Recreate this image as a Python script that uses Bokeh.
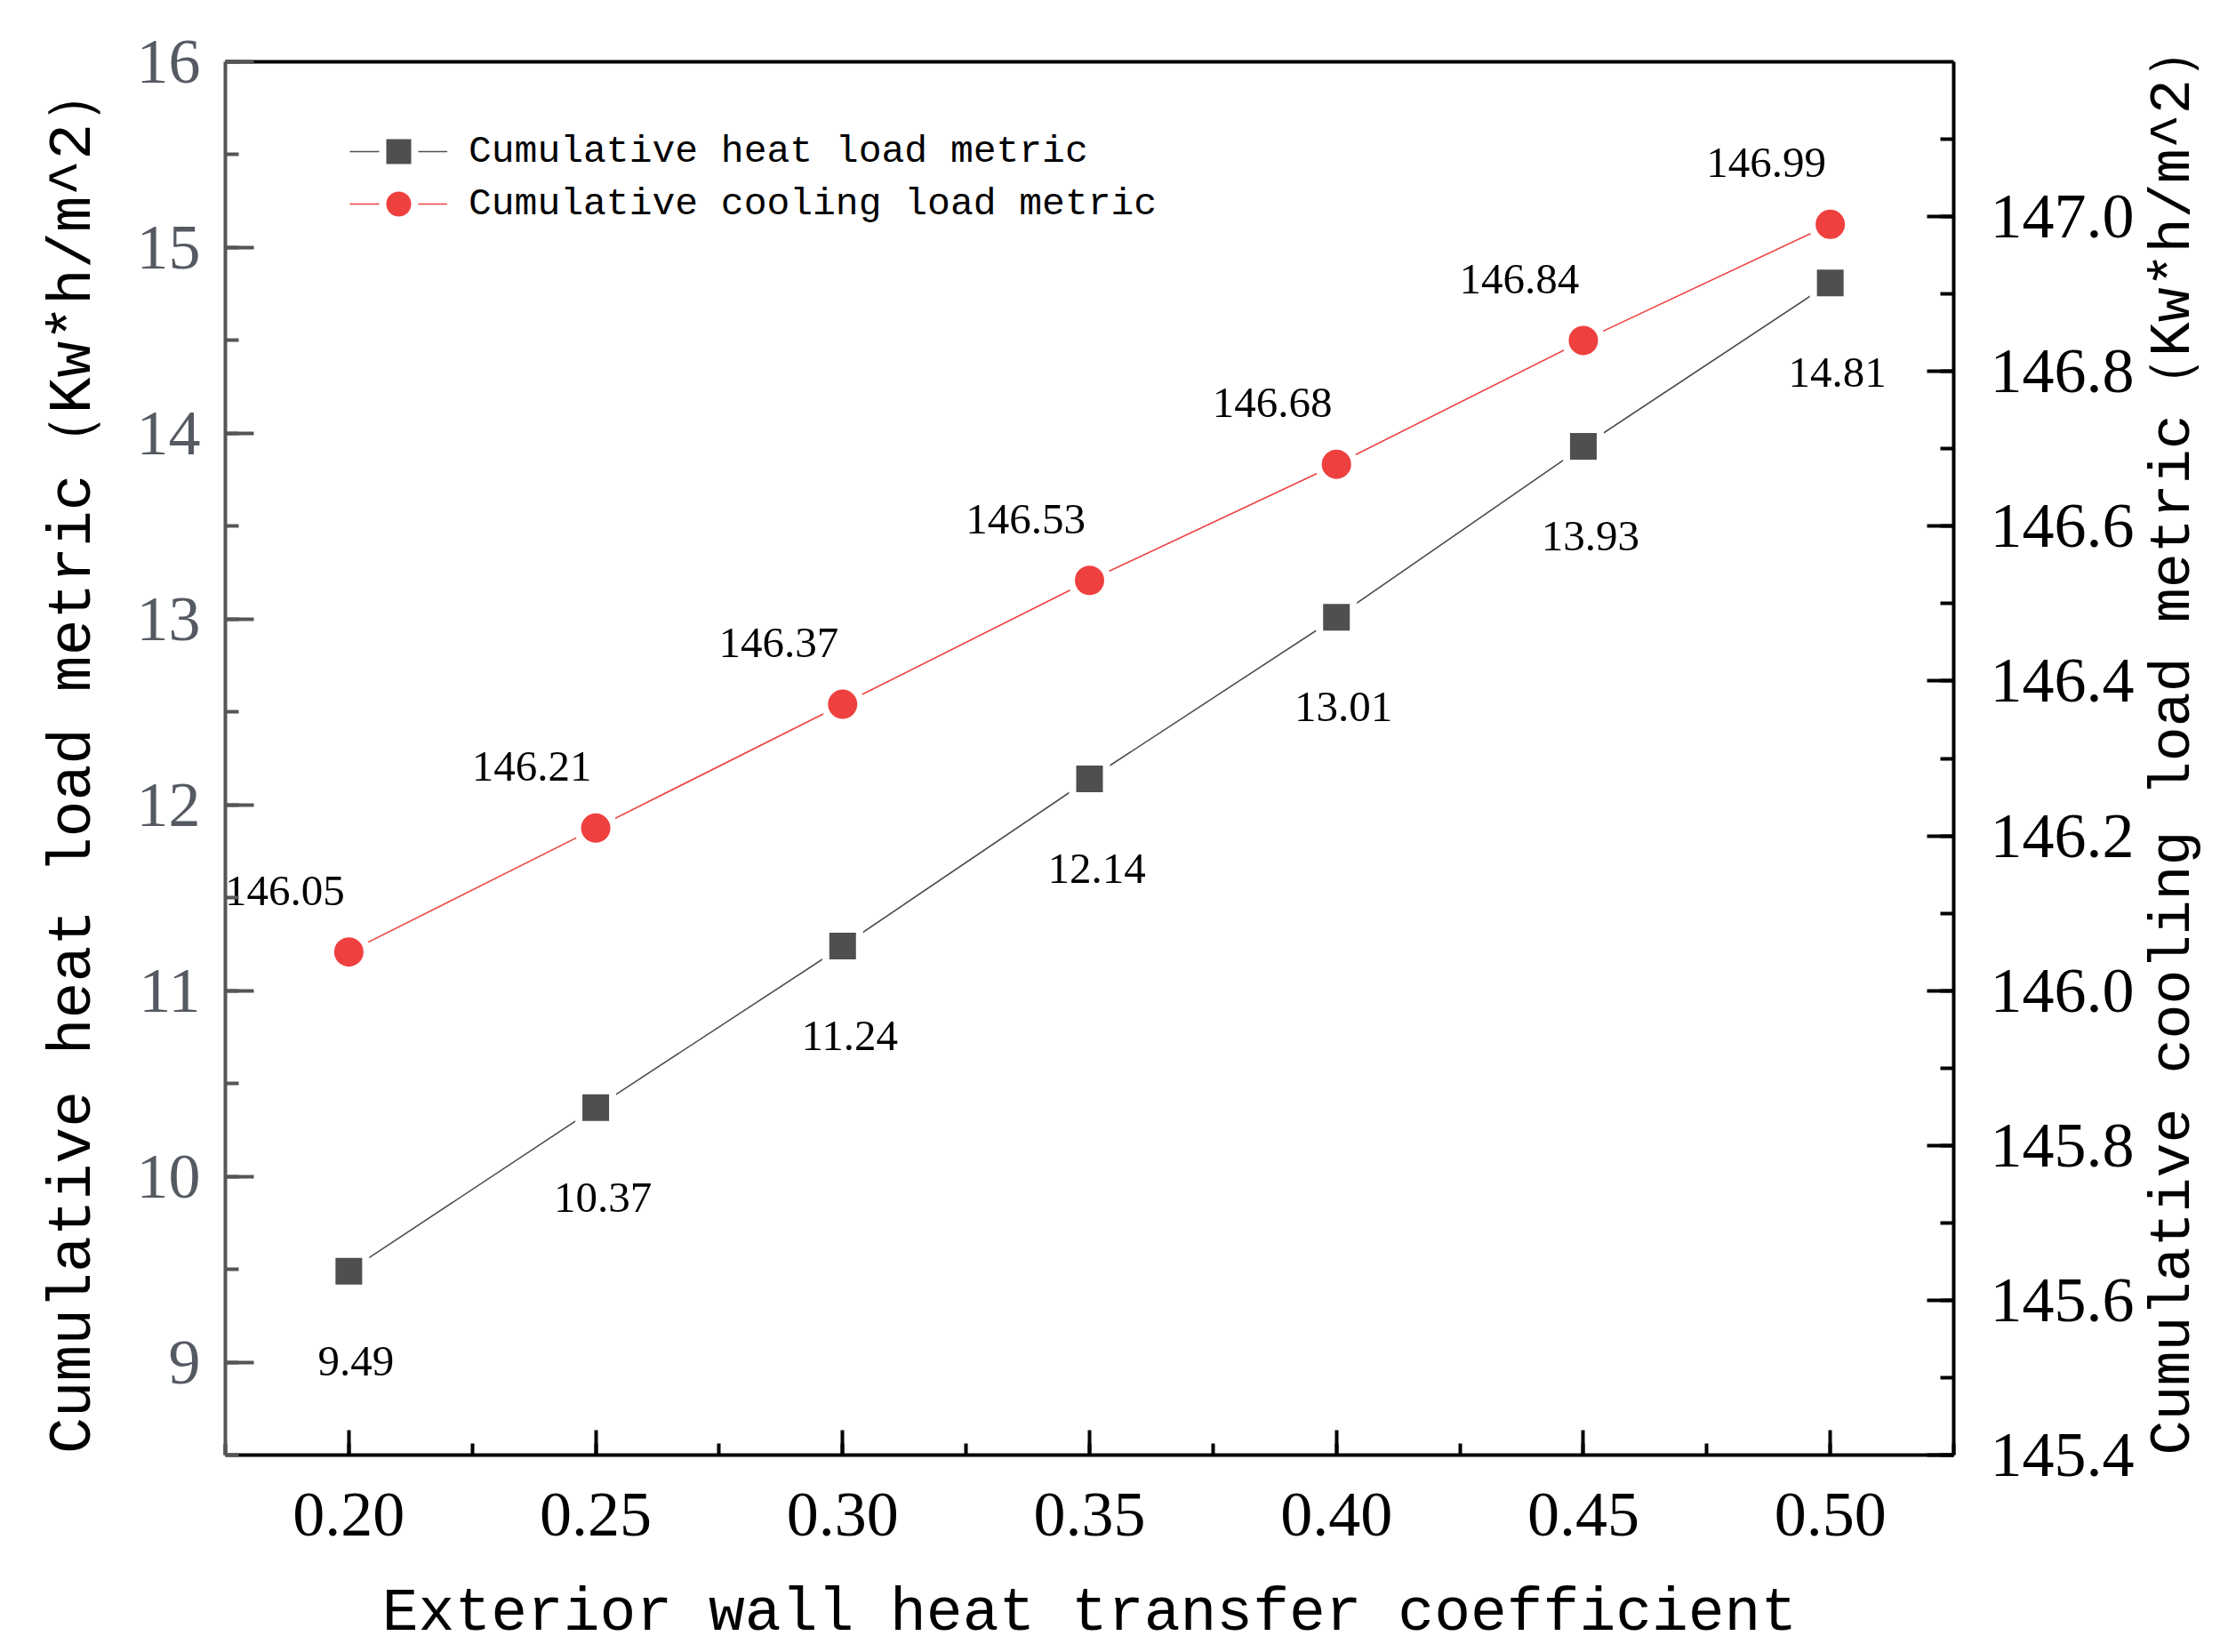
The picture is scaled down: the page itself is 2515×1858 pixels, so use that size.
import math
from bokeh.plotting import figure
from bokeh.models import (Range1d, LinearAxis, SingleIntervalTicker, FixedTicker,
                          PrintfTickFormatter, ColumnDataSource, Legend, LegendItem)
from bokeh.embed import file_html
from bokeh.resources import INLINE
from bokeh.core.properties import value

# ---- data ----
coef = [0.20, 0.25, 0.30, 0.35, 0.40, 0.45, 0.50]
heat = [9.49, 10.37, 11.24, 12.14, 13.01, 13.93, 14.81]
cool = [146.05, 146.21, 146.37, 146.53, 146.68, 146.84, 146.99]
heat_name = "Cumulative heat load metric"
cool_name = "Cumulative cooling load metric"
x_title = "Exterior wall heat transfer coefficient"
left_title = "Cumulative heat load metric\uff08Kw*h/m^2\uff09"
right_title = "Cumulative cooling load metric\uff08Kw*h/m^2\uff09"

heat_src = ColumnDataSource(dict(x=coef, y=heat, t=[f"{v:.2f}" for v in heat]))
cool_src = ColumnDataSource(dict(x=coef, y=cool, t=[f"{v:.2f}" for v in cool]))

GREY = "#4f4f4f"
RED = "#ef4040"
MONO = "Liberation Mono"
SERIF = "Liberation Serif"

p = figure(frame_width=1944, frame_height=1567,
           x_range=Range1d(0.175, 0.525), y_range=Range1d(8.5, 16),
           output_backend="svg", toolbar_location=None,
           min_border_left=253, min_border_right=318,
           min_border_top=69, min_border_bottom=218,
           background_fill_color="white", border_fill_color="white",
           outline_line_color=None)
p.xgrid.visible = False
p.ygrid.visible = False
p.extra_y_ranges = {"right": Range1d(145.4, 147.2)}

# bottom axis
xa = p.xaxis[0]
xa.ticker = SingleIntervalTicker(interval=0.05, num_minor_ticks=2)
xa.formatter = PrintfTickFormatter(format="%.2f")
xa.axis_line_color = "black"
xa.axis_line_width = 4
xa.major_tick_line_color = "black"
xa.major_tick_line_width = 4
xa.major_tick_in = 28
xa.major_tick_out = 0
xa.minor_tick_line_color = "black"
xa.minor_tick_line_width = 4
xa.minor_tick_in = 13
xa.minor_tick_out = 0
xa.major_label_text_font = SERIF
xa.major_label_text_font_size = "72px"
xa.major_label_text_color = "black"
xa.major_label_standoff = 43
xa.axis_label = x_title
xa.axis_label_text_font = MONO
xa.axis_label_text_font_size = "68px"
xa.axis_label_text_font_style = "normal"
xa.axis_label_text_color = "black"
xa.axis_label_standoff = 46

# left axis
ya = p.yaxis[0]
ya.ticker = SingleIntervalTicker(interval=1, num_minor_ticks=2)
ya.axis_line_color = "#555555"
ya.axis_line_width = 4
ya.major_tick_line_color = "#555555"
ya.major_tick_line_width = 4
ya.major_tick_in = 32
ya.major_tick_out = 0
ya.minor_tick_line_color = "#555555"
ya.minor_tick_line_width = 4
ya.minor_tick_in = 15
ya.minor_tick_out = 0
ya.major_label_text_font = SERIF
ya.major_label_text_font_size = "72px"
ya.major_label_text_color = "#555a62"
ya.major_label_standoff = 28
ya.axis_label = left_title
ya.axis_label_text_font = MONO
ya.axis_label_text_font_size = "68px"
ya.axis_label_text_font_style = "normal"
ya.axis_label_text_color = "black"
ya.axis_label_standoff = 30

# right axis
ra = LinearAxis(y_range_name="right",
                ticker=SingleIntervalTicker(interval=0.2, num_minor_ticks=2),
                formatter=PrintfTickFormatter(format="%.1f"))
ra.axis_line_color = "black"
ra.axis_line_width = 4
ra.major_tick_line_color = "black"
ra.major_tick_line_width = 4
ra.major_tick_in = 30
ra.major_tick_out = 0
ra.minor_tick_line_color = "black"
ra.minor_tick_line_width = 4
ra.minor_tick_in = 15
ra.minor_tick_out = 0
ra.major_label_text_font = SERIF
ra.major_label_text_font_size = "72px"
ra.major_label_text_color = "black"
ra.major_label_standoff = 41
ra.axis_label = right_title
ra.axis_label_text_font = MONO
ra.axis_label_text_font_size = "65px"
ra.axis_label_text_font_style = "normal"
ra.axis_label_text_color = "black"
ra.axis_label_standoff = 41
props = ra.properties()
if "axis_label_orientation" in props:
    ra.axis_label_orientation = math.pi / 2
    if "axis_label_align" in props:
        ra.axis_label_align = "start"
p.add_layout(ra, "right")

# top border line
ta = LinearAxis(ticker=FixedTicker(ticks=[], minor_ticks=[]))
ta.axis_line_color = "black"
ta.axis_line_width = 4
ta.major_tick_in = 0
ta.major_tick_out = 0
ta.minor_tick_in = 0
ta.minor_tick_out = 0
ta.major_label_text_font_size = "0px"
p.add_layout(ta, "above")

# series
heat_line = p.line("x", "y", source=heat_src, line_color=GREY, line_width=1.6)
heat_pts = p.scatter("x", "y", source=heat_src, marker="square", size=38, fill_color=GREY,
                     line_color="white", line_width=8)
cool_line = p.line("x", "y", source=cool_src, y_range_name="right", line_color=RED,
                   line_width=1.6)
cool_pts = p.scatter("x", "y", source=cool_src, y_range_name="right", marker="circle",
                     size=41, fill_color=RED, line_color="white", line_width=8)

# value labels
p.text("x", "y", text="t", source=heat_src, x_offset=8, y_offset=101,
       text_align="center", text_baseline="middle", text_font=value(SERIF),
       text_font_size="49px", text_color="black")
p.text("x", "y", text="t", source=cool_src, y_range_name="right", x_offset=-72, y_offset=-69,
       text_align="center", text_baseline="middle", text_font=value(SERIF),
       text_font_size="49px", text_color="black")


# legends (one per entry so the rows can sit close together)
def make_legend(label, renderers, loc):
    lg = Legend(items=[LegendItem(label=label, renderers=renderers)], location=loc)
    lg.label_text_font = MONO
    lg.label_text_font_size = "43px"
    lg.label_text_color = "black"
    lg.glyph_width = 110
    lg.glyph_height = 90
    lg.label_standoff = 24
    lg.label_height = 90
    lg.spacing = 0
    lg.padding = 0
    lg.margin = 0
    lg.border_line_color = None
    lg.background_fill_alpha = 0
    p.add_layout(lg)


make_legend(heat_name, [heat_line, heat_pts], (140, 1421))
make_legend(cool_name, [cool_line, cool_pts], (140, 1362))

open("out.html", "w").write(file_html(p, INLINE))
